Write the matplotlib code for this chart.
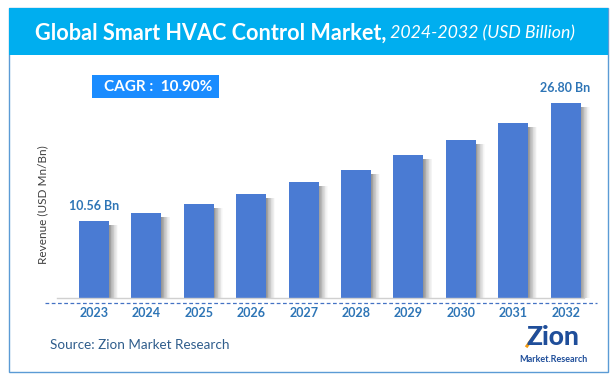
import matplotlib
matplotlib.use("Agg")
import matplotlib.pyplot as plt
from matplotlib.patches import Rectangle
import numpy as np

plt.rcParams['font.family'] = ['Lato', 'DejaVu Sans']

years = ['2023', '2024', '2025', '2026', '2027', '2028', '2029', '2030', '2031', '2032']
values = [10.56, 11.7, 12.9, 14.3, 15.9, 17.6, 19.6, 21.7, 24.0, 26.80]
label_first = '10.56 Bn'
label_last = '26.80 Bn'
cagr_text = 'CAGR :  10.90%'
title_main = 'Global Smart HVAC Control Market,'
title_sub = ' 2024-2032 (USD Billion)'
ylabel = 'Revenue (USD Mn/Bn)'
source = 'Source: Zion Market Research'

W, H = 615, 385
fig = plt.figure(figsize=(W / 100, H / 100), dpi=100)
fig.patch.set_facecolor('white')

def fx(px):
    return px / W

def fy(py):
    return 1 - py / H

# overall frame
frame = Rectangle((fx(9), fy(372)), fx(608) - fx(9), fy(8) - fy(372),
                  transform=fig.transFigure, fill=False, edgecolor='#5B9BD5', lw=1.0)
fig.patches.append(frame)
# title banner
banner = Rectangle((fx(9), fy(55)), fx(608) - fx(9), fy(8) - fy(55),
                   transform=fig.transFigure, facecolor='#00AEEF', edgecolor='none')
fig.patches.append(banner)

t1 = fig.text(fx(35), fy(33), title_main, color='white', fontsize=15.6, fontweight='bold',
              va='center', ha='left')
fig.canvas.draw()
bb = t1.get_window_extent()
fig.text(bb.x1 / fig.dpi / fig.get_figwidth(), fy(33), title_sub, color='white', fontsize=12.8,
         style='italic', va='center', ha='left')

# axes
ax_left, ax_right, ax_top, ax_bot = 45, 600, 90, 298
ax = fig.add_axes([fx(ax_left), fy(ax_bot), fx(ax_right) - fx(ax_left), fy(ax_top) - fy(ax_bot)])
pitch = 52.4
c0 = 94 - ax_left
ax.set_xlim(-c0 / pitch, (ax_right - ax_left - c0) / pitch)
px_per_unit = 7.29
ax.set_ylim(0, (ax_bot - ax_top) / px_per_unit)
ax.axis('off')

x = np.arange(len(years))
bw = 30 / pitch
shadow_w = 9 / pitch
# shadows
for xi, v in zip(x, values):
    n = 12
    for k in range(n):
        a = 0.6 * (1 - k / n) ** 1.3
        ax.add_patch(Rectangle((xi + bw / 2 + k * shadow_w / n, 0), shadow_w / n, v - 0.6,
                               facecolor='#505050', alpha=a, edgecolor='none', zorder=1))
ax.bar(x, values, width=bw, color='#4A7BD3', zorder=2)

# baseline
ax.plot([-0.7, 9.35], [0, 0], color='#D0D0D0', lw=1.0, zorder=3, clip_on=False)

ax.text(x[0], values[0] + 1.2, label_first, ha='center', va='bottom', fontsize=9,
        fontweight='bold', color='#2E75B6')
ax.text(x[-1], values[-1] + 1.2, label_last, ha='center', va='bottom', fontsize=9,
        fontweight='bold', color='#2E75B6')

# dashed line
fig.lines.append(plt.Line2D([fx(45), fx(597)], [fy(303), fy(303)], transform=fig.transFigure,
                            color='#4472C4', lw=0.9, ls=(0, (3, 2))))

# year labels
for xi, yr in zip(x, years):
    ax.text(xi, -15 / px_per_unit, yr, ha='center', va='center', fontsize=9,
            fontweight='bold', color='#2E75B6', clip_on=False)

# y label
fig.text(fx(43), fy(205), ylabel, rotation=90, ha='center', va='center', fontsize=8.5,
         color='#404040')

# CAGR box
cbox = Rectangle((fx(92), fy(98)), fx(219) - fx(92), fy(75) - fy(98),
                 transform=fig.transFigure, facecolor='#1A8CFF', edgecolor='none')
fig.patches.append(cbox)
fig.text(fx(158), fy(87), cagr_text, ha='center', va='center', fontsize=11,
         fontweight='bold', color='white')

# source
fig.text(fx(50), fy(345), source, ha='left', va='center', fontsize=9.7, color='#2F5D8C')

# logo (text approximation)
fig.text(fx(553), fy(337), 'Zion', ha='center', va='center', fontsize=19, fontweight='black',
         color='#1F4E9A')
fig.lines.append(plt.Line2D([fx(527), fx(540)], [fy(346), fy(328)], transform=fig.transFigure,
                            color='#F39C12', lw=2.2))
fig.text(fx(553), fy(359), 'Market.Research', ha='center', va='center', fontsize=6.5,
         fontweight='bold', color='#1F4E9A')

fig.savefig('out.png', dpi=100, facecolor='white')
